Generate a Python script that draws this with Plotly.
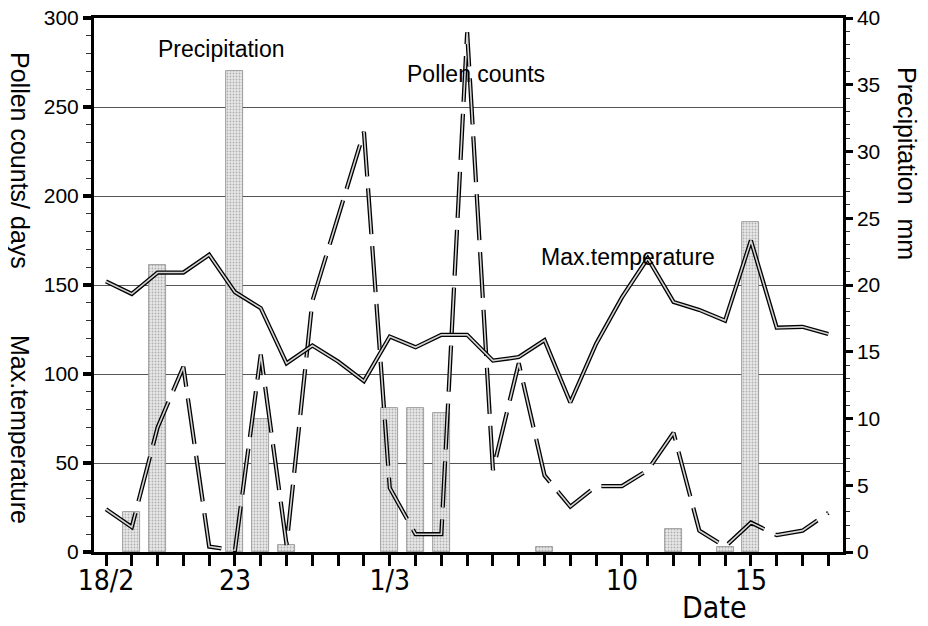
import plotly.graph_objects as go

# ---------------- data ----------------
days = list(range(29))  # 0 = 18/2 ... 28 = 18/3
tick_labels = ["18/2", "", "", "", "", "23", "", "", "", "", "", "1/3", "", "", "",
               "", "", "", "", "", "10", "", "", "", "", "15", "", "", ""]

pollen = [24, 14, 70, 104, 3, 1, 111, 4, 141, 188, 236, 36, 10, 10, 292,
          46, 106, 43, 25.5, 37, 37, 46, 67, 12, 3, 16.5, 9.5, 12, 22]

max_temp = [152, 145, 157, 157, 167, 146, 137, 106, 116, 107, 96, 121, 115, 122, 122,
            107.5, 109.5, 119, 84, 117, 143, 165, 140.5, 136, 130, 175, 126, 126.5, 122.5]

precip = [0, 3.0, 21.5, 0, 0, 36, 10, 0.5, 0, 0, 0, 10.8, 10.8, 10.4, 0,
          0, 0, 0.4, 0, 0, 0, 0, 1.7, 0, 0.35, 24.7, 0, 0, 0]

# ---------------- layout geometry (page pixels) ----------------
PAGE_W, PAGE_H = 928, 626
OFF = 8                      # default body margin of the html page
W, H = PAGE_W - 2 * OFF, PAGE_H - 2 * OFF
L, R, T, B = 94, 843, 18, 552   # plot area in page pixels


def px(x):
    return (x - L) / (R - L)


def py(y):
    return (B - y) / (B - T)


TICKFONT = "Liberation Sans, Arial, sans-serif"
NARROW = "Liberation Sans Narrow, DejaVu Sans Condensed, Arial Narrow, sans-serif"

fig = go.Figure()

fig.add_trace(go.Bar(
    x=days, y=[v if v > 0 else None for v in precip], yaxis="y", width=0.66,
    marker=dict(color="#e4e4e4",
                line=dict(color="#8a8a8a", width=0.8),
                pattern=dict(shape=".", fgcolor="#777777", bgcolor="#e8e8e8",
                             size=3, solidity=0.3)),
    name="Precipitation", showlegend=False,
))

# pollen counts: dashed hollow line
fig.add_trace(go.Scatter(
    x=days, y=pollen, yaxis="y2", mode="lines",
    line=dict(color="black", width=4.2, dash="46px,12px"),
    showlegend=False, hoverinfo="skip"))
fig.add_trace(go.Scatter(
    x=days, y=pollen, yaxis="y2", mode="lines",
    line=dict(color="#d4d4d4", width=1.6, dash="46px,12px"),
    showlegend=False, name="Pollen counts"))

# max temperature: solid hollow line
fig.add_trace(go.Scatter(
    x=days, y=max_temp, yaxis="y2", mode="lines",
    line=dict(color="black", width=4.2),
    showlegend=False, hoverinfo="skip"))
fig.add_trace(go.Scatter(
    x=days, y=max_temp, yaxis="y2", mode="lines",
    line=dict(color="#d4d4d4", width=1.6),
    showlegend=False, name="Max.temperature"))

annotations = [
    dict(text="Precipitation", x=px(221), y=py(49), font=dict(size=23)),
    dict(text="Pollen counts", x=px(476), y=py(74), font=dict(size=23)),
    dict(text="Max.temperature", x=px(628), y=py(257), font=dict(size=23)),
    dict(text="Pollen counts/ days", x=px(20), y=py(160), textangle=90, font=dict(size=25)),
    dict(text="Max.temperature", x=px(20), y=py(429), textangle=90, font=dict(size=25)),
    dict(text="Precipitation  mm", x=px(907), y=py(164), textangle=90, font=dict(size=25)),
    dict(text="Date", x=px(714), y=py(607), font=dict(size=30, family=NARROW)),
]
for a in annotations:
    a.update(xref="paper", yref="paper", showarrow=False,
             xanchor="center", yanchor="middle")
    a["font"].setdefault("family", TICKFONT)
    a["font"]["color"] = "black"

fig.update_layout(
    width=W, height=H,
    margin=dict(l=L - OFF, r=PAGE_W - OFF - R, t=T - OFF, b=PAGE_H - OFF - B, pad=0),
    paper_bgcolor="white", plot_bgcolor="white",
    bargap=0,
    annotations=annotations,
    xaxis=dict(
        range=[-0.465, 28.57], tickmode="array", tickvals=days, ticktext=tick_labels,
        ticks="outside", ticklen=11, tickwidth=2.5, tickcolor="black",
        showline=True, linecolor="black", linewidth=3, mirror=True,
        showgrid=False, zeroline=False, automargin=False,
        ticklabeloverflow="allow", ticklabelstandoff=-10,
        tickfont=dict(family=NARROW, size=28, color="black"),
    ),
    yaxis=dict(  # precipitation, right side
        range=[0, 40], side="right", tickmode="linear", tick0=0, dtick=5,
        ticks="outside", ticklen=7, tickwidth=3, tickcolor="black",
        minor=dict(dtick=1, ticks="outside", ticklen=4, tickwidth=1, tickcolor="#333"),
        showline=True, linecolor="black", linewidth=2.5,
        showgrid=False, zeroline=False, automargin=False,
        ticklabeloverflow="allow",
        tickfont=dict(family=TICKFONT, size=21, color="black"),
    ),
    yaxis2=dict(  # pollen / temperature, left side
        range=[0, 300], side="left", overlaying="y", tickmode="linear", tick0=0, dtick=50,
        ticks="outside", ticklen=8, tickwidth=3.5, tickcolor="black",
        minor=dict(dtick=10, ticks="outside", ticklen=5, tickwidth=1, tickcolor="#333",
                   showgrid=False),
        showline=True, linecolor="black", linewidth=3,
        showgrid=True, gridcolor="#555", gridwidth=1, zeroline=False, automargin=False,
        ticklabeloverflow="allow",
        tickfont=dict(family=TICKFONT, size=21, color="black"),
    ),
)

fig.write_html("out.html")
